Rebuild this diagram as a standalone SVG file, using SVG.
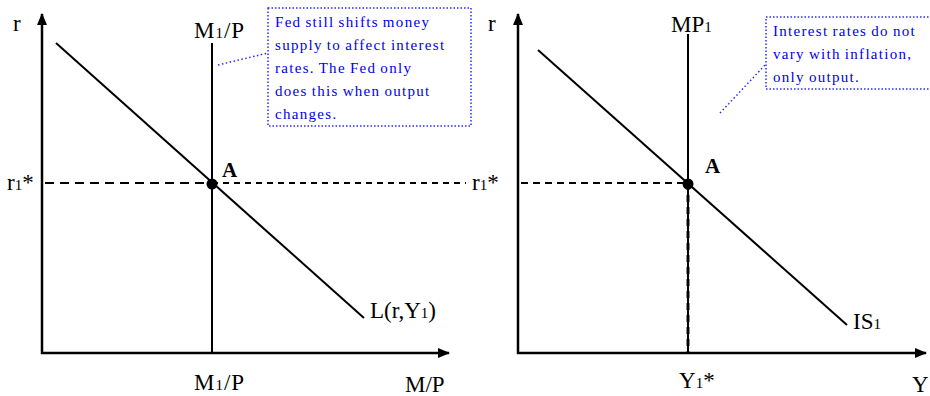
<svg xmlns="http://www.w3.org/2000/svg" width="930" height="396" viewBox="0 0 930 396">
<style>
.ax{stroke:#000;stroke-width:2.5;fill:none}
.ln{stroke:#000;stroke-width:2;fill:none}
.dash{stroke:#000;stroke-width:2;fill:none}
.lbl{font-family:"Liberation Serif","Times New Roman",serif;font-size:23px;fill:#000}
.sub{font-size:15px}
.bold{font-weight:bold;font-size:21px}
.note{font-family:"Liberation Serif","Times New Roman",serif;font-size:15px;fill:#0000ee;letter-spacing:1.3px;word-spacing:-1px}
.box{fill:#fff;stroke:#2a2aff;stroke-width:1.5;stroke-dasharray:1.5 2}
.lead{stroke:#2a2aff;stroke-width:1.5;stroke-dasharray:1.5 2.5;fill:none}
</style>
<defs>
<marker id="arr" viewBox="0 0 12 10" refX="11" refY="5" markerWidth="12" markerHeight="10" markerUnits="userSpaceOnUse" orient="auto">
<path d="M0,0 L12,5 L0,10 Z" fill="#000"/>
</marker>
</defs>
<rect width="930" height="396" fill="#fff"/>
<g id="connectors">
<line class="ax" x1="42" y1="354" x2="42" y2="14" marker-end="url(#arr)"/>
<line class="ax" x1="41" y1="353" x2="449" y2="353" marker-end="url(#arr)"/>
<line class="ax" x1="518" y1="354" x2="518" y2="14" marker-end="url(#arr)"/>
<line class="ax" x1="517" y1="353" x2="926" y2="353" marker-end="url(#arr)"/>
<line class="dash" x1="45" y1="183" x2="212" y2="183" stroke-dasharray="9 6"/>
<line class="dash" x1="212" y1="183" x2="466" y2="183" stroke-dasharray="6 5"/>
<line class="dash" x1="521" y1="183" x2="688" y2="183" stroke-dasharray="7 5"/>
<line x1="688" y1="183" x2="688" y2="352" stroke="#666" stroke-width="3.5" stroke-dasharray="7 5"/>
<line class="lead" x1="218" y1="65" x2="268" y2="53"/>
<line class="lead" x1="720" y1="113" x2="766" y2="64"/>
</g>
<g id="L-curve">
<line class="ln" x1="56" y1="43" x2="364" y2="318"/>
<text class="lbl" x="370" y="318">L(r,Y<tspan class="sub">1</tspan>)</text>
</g>
<g id="M1P-line">
<line class="ln" x1="212" y1="43" x2="212" y2="353"/>
<text class="lbl" x="194" y="38" letter-spacing="1">M<tspan class="sub">1</tspan>/P</text>
</g>
<g id="left-point-A">
<circle cx="212" cy="184" r="5.5" fill="#000"/>
<text class="lbl bold" x="222" y="177">A</text>
</g>
<g id="left-labels">
<text class="lbl" x="13" y="31">r</text>
<text class="lbl" x="7" y="190">r<tspan class="sub">1</tspan>*</text>
<text class="lbl" x="194" y="390" letter-spacing="1">M<tspan class="sub">1</tspan>/P</text>
<text class="lbl" x="405" y="392">M/P</text>
</g>
<g id="left-note">
<rect class="box" x="268" y="8" width="203" height="118"/>
<text class="note" x="275" y="27">Fed still shifts money</text>
<text class="note" x="275" y="50">supply to affect interest</text>
<text class="note" x="275" y="73">rates. The Fed only</text>
<text class="note" x="275" y="96">does this when output</text>
<text class="note" x="275" y="119">changes.</text>
</g>
<g id="IS-curve">
<line class="ln" x1="538" y1="50" x2="847" y2="325"/>
<text class="lbl" x="853" y="329">IS<tspan class="sub">1</tspan></text>
</g>
<g id="MP-line">
<line class="ln" x1="688" y1="34" x2="688" y2="353"/>
<text class="lbl" x="671" y="32">MP<tspan class="sub">1</tspan></text>
</g>
<g id="right-point-A">
<circle cx="688" cy="184" r="5.5" fill="#000"/>
<text class="lbl bold" x="705" y="173">A</text>
</g>
<g id="right-labels">
<text class="lbl" x="488" y="31">r</text>
<text class="lbl" x="472" y="190">r<tspan class="sub">1</tspan>*</text>
<text class="lbl" x="679" y="388">Y<tspan class="sub">1</tspan>*</text>
<text class="lbl" x="912" y="392">Y</text>
</g>
<g id="right-note">
<rect class="box" x="766" y="17" width="180" height="72"/>
<text class="note" x="773" y="36">Interest rates do not</text>
<text class="note" x="773" y="59">vary with inflation,</text>
<text class="note" x="773" y="82">only output.</text>
</g>
</svg>
